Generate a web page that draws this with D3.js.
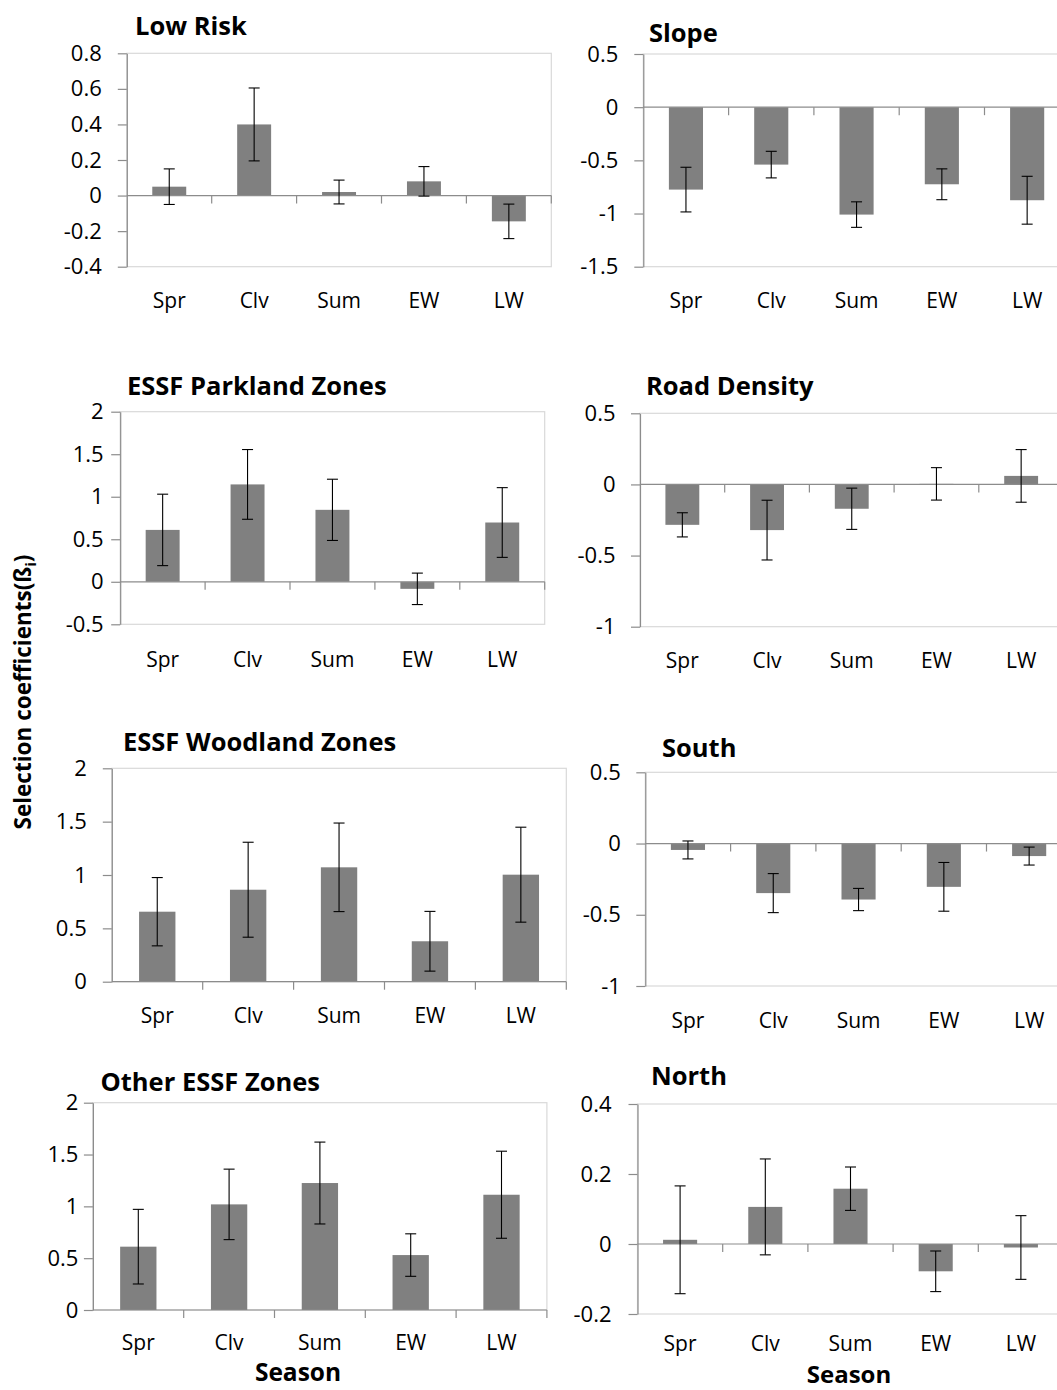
<!DOCTYPE html>
<html>
<head>
<meta charset="utf-8">
<script src="https://cdn.jsdelivr.net/npm/d3@7"></script>
<style>
  html, body { margin: 0; padding: 0; background: #fff; }
  svg { display: block; font-family: "Open Sans", "Liberation Sans", sans-serif; }
</style>
</head>
<body>
<svg id="chart" width="1057" height="1390"></svg>
<script>
// ---------------- data ----------------
const categories = ["Spr", "Clv", "Sum", "EW", "LW"];

const lowRiskValues = [0.05, 0.40, 0.02, 0.08, -0.145];
const lowRiskErrors = [0.10, 0.205, 0.067, 0.083, 0.097];
const lowRiskTicks = [-0.4, -0.2, 0, 0.2, 0.4, 0.6, 0.8];

const slopeValues = [-0.775, -0.54, -1.01, -0.725, -0.875];
const slopeErrors = [0.21, 0.125, 0.12, 0.145, 0.225];
const slopeTicks = [-1.5, -1, -0.5, 0, 0.5];

const parklandValues = [0.61, 1.145, 0.846, -0.083, 0.697];
const parklandErrors = [0.42, 0.41, 0.36, 0.185, 0.41];
const parklandTicks = [-0.5, 0, 0.5, 1, 1.5, 2];

const roadValues = [-0.284, -0.321, -0.171, 0.004, 0.06];
const roadErrors = [0.085, 0.21, 0.145, 0.114, 0.185];
const roadTicks = [-1, -0.5, 0, 0.5];

const woodlandValues = [0.656, 0.862, 1.072, 0.379, 1.003];
const woodlandErrors = [0.32, 0.445, 0.415, 0.28, 0.445];
const woodlandTicks = [0, 0.5, 1, 1.5, 2];

const southValues = [-0.045, -0.348, -0.393, -0.304, -0.088];
const southErrors = [0.063, 0.137, 0.078, 0.171, 0.063];
const southTicks = [-1, -0.5, 0, 0.5];

const otherValues = [0.611, 1.019, 1.225, 0.530, 1.112];
const otherErrors = [0.36, 0.34, 0.395, 0.205, 0.42];
const otherTicks = [0, 0.5, 1, 1.5, 2];

const northValues = [0.012, 0.106, 0.158, -0.078, -0.01];
const northErrors = [0.154, 0.137, 0.062, 0.058, 0.091];
const northTicks = [-0.2, 0, 0.2, 0.4];

const yAxisTitle = "Selection coefficients(ß";
const yAxisSub = "i";
const xAxisTitle = "Season";

// ---------------- layout ----------------
const panels = [
  { title: "Low Risk", values: lowRiskValues, errors: lowRiskErrors, ticks: lowRiskTicks,
    left: 126.8, top: 53.3, bottom: 266.7, step: 84.9, labelGap: 25, titleX: 135, titleY: 35, catY: 308 },
  { title: "Slope", values: slopeValues, errors: slopeErrors, ticks: slopeTicks,
    left: 643.3, top: 54, bottom: 266.7, step: 85.3, labelGap: 25, titleX: 649, titleY: 41.5, catY: 308 },
  { title: "ESSF Parkland Zones", values: parklandValues, errors: parklandErrors, ticks: parklandTicks,
    left: 120.2, top: 411.7, bottom: 624.3, step: 84.9, labelGap: 16.5, titleX: 127, titleY: 394.5, catY: 667 },
  { title: "Road Density", values: roadValues, errors: roadErrors, ticks: roadTicks,
    left: 640, top: 413.3, bottom: 626.7, step: 84.7, labelGap: 24.5, titleX: 646, titleY: 395, catY: 668 },
  { title: "ESSF Woodland Zones", values: woodlandValues, errors: woodlandErrors, ticks: woodlandTicks,
    left: 111.8, top: 768.3, bottom: 981.7, step: 90.9, labelGap: 25, titleX: 123, titleY: 750.5, catY: 1023 },
  { title: "South", values: southValues, errors: southErrors, ticks: southTicks,
    left: 645.3, top: 772.3, bottom: 986, step: 85.3, labelGap: 24.5, titleX: 662, titleY: 756.5, catY: 1028 },
  { title: "Other ESSF Zones", values: otherValues, errors: otherErrors, ticks: otherTicks,
    left: 92.9, top: 1102.7, bottom: 1310, step: 90.8, labelGap: 14.5, titleX: 100.5, titleY: 1090.5, catY: 1350 },
  { title: "North", values: northValues, errors: northErrors, ticks: northTicks,
    left: 637.5, top: 1104, bottom: 1314, step: 85.2, labelGap: 26, titleX: 651, titleY: 1085, catY: 1351 }
];

const svg = d3.select("#chart");
const fmt = d => String(Math.round(d * 10) / 10);

panels.forEach(p => {
  const g = svg.append("g");
  const right = p.left + p.step * categories.length;
  const ext = d3.extent(p.ticks);
  const y = d3.scaleLinear().domain(ext).range([p.bottom, p.top]);
  const xb = d3.scaleBand().domain(categories).range([p.left, right])
    .paddingInner(0.6).paddingOuter(0.3);
  const xs = d3.scaleBand().domain(categories).range([p.left, right]).padding(0);

  // plot area border (light)
  g.append("rect")
    .attr("x", p.left).attr("y", p.top)
    .attr("width", right - p.left).attr("height", p.bottom - p.top)
    .attr("fill", "none").attr("stroke", "#d9d9d9").attr("stroke-width", 1.2);

  // bars
  const data = categories.map((c, i) => ({ c, v: p.values[i], e: p.errors[i] }));
  g.selectAll("rect.bar").data(data).enter().append("rect")
    .attr("class", "bar")
    .attr("x", d => xb(d.c))
    .attr("width", xb.bandwidth())
    .attr("y", d => y(Math.max(0, d.v)))
    .attr("height", d => Math.abs(y(d.v) - y(0)))
    .attr("fill", "#808080");

  // x axis line at zero with boundary ticks
  const y0 = y(0);
  g.append("line")
    .attr("x1", p.left).attr("x2", right).attr("y1", y0).attr("y2", y0)
    .attr("stroke", "#8c8c8c").attr("stroke-width", 1.2);
  g.selectAll("line.xtick").data(categories).enter().append("line")
    .attr("class", "xtick")
    .attr("x1", d => xs(d) + xs.bandwidth()).attr("x2", d => xs(d) + xs.bandwidth())
    .attr("y1", y0).attr("y2", y0 + 8)
    .attr("stroke", "#8c8c8c").attr("stroke-width", 1.2);

  // error bars
  const eb = g.selectAll("g.err").data(data).enter().append("g").attr("class", "err");
  const cx = d => xb(d.c) + xb.bandwidth() / 2;
  eb.append("line")
    .attr("x1", cx).attr("x2", cx)
    .attr("y1", d => y(d.v + d.e)).attr("y2", d => y(d.v - d.e))
    .attr("stroke", "#000").attr("stroke-width", 1.1);
  eb.append("line")
    .attr("x1", d => cx(d) - 5.5).attr("x2", d => cx(d) + 5.5)
    .attr("y1", d => y(d.v + d.e)).attr("y2", d => y(d.v + d.e))
    .attr("stroke", "#000").attr("stroke-width", 1.1);
  eb.append("line")
    .attr("x1", d => cx(d) - 5.5).attr("x2", d => cx(d) + 5.5)
    .attr("y1", d => y(d.v - d.e)).attr("y2", d => y(d.v - d.e))
    .attr("stroke", "#000").attr("stroke-width", 1.1);

  // y axis
  const ya = g.append("g")
    .attr("transform", `translate(${p.left},0)`)
    .call(d3.axisLeft(y).tickValues(p.ticks).tickFormat(fmt)
      .tickSize(9).tickSizeOuter(0).tickPadding(p.labelGap - 9));
  ya.select(".domain").attr("stroke", "#8c8c8c").attr("stroke-width", 1.2);
  ya.selectAll(".tick line").attr("stroke", "#8c8c8c").attr("stroke-width", 1.2);
  ya.selectAll(".tick text")
    .attr("fill", "#000")
    .style("font-family", "'Open Sans', sans-serif")
    .style("font-size", "22px");

  // category labels
  g.selectAll("text.cat").data(categories).enter().append("text")
    .attr("class", "cat")
    .attr("x", d => xs(d) + xs.bandwidth() / 2)
    .attr("y", p.catY)
    .attr("text-anchor", "middle")
    .style("font-size", "21px")
    .attr("fill", "#000")
    .text(d => d);

  // panel title
  g.append("text")
    .attr("x", p.titleX).attr("y", p.titleY)
    .style("font-size", "25.5px").style("font-weight", "bold")
    .attr("fill", "#000")
    .text(p.title);
});

// shared axis titles
const yt = svg.append("text")
  .attr("transform", "translate(31,692) rotate(-90)")
  .attr("text-anchor", "middle")
  .style("font-size", "22.5px").style("font-weight", "bold")
  .attr("fill", "#000");
yt.append("tspan").text(yAxisTitle);
yt.append("tspan").attr("dy", 5).style("font-size", "15px").text(yAxisSub);
yt.append("tspan").attr("dy", -5).text(")");

svg.append("text").attr("x", 298).attr("y", 1381).attr("text-anchor", "middle")
  .style("font-size", "24.5px").style("font-weight", "bold").attr("fill", "#000").text(xAxisTitle);
svg.append("text").attr("x", 849).attr("y", 1383).attr("text-anchor", "middle")
  .style("font-size", "24px").style("font-weight", "bold").attr("fill", "#000").text(xAxisTitle);
</script>
</body>
</html>
